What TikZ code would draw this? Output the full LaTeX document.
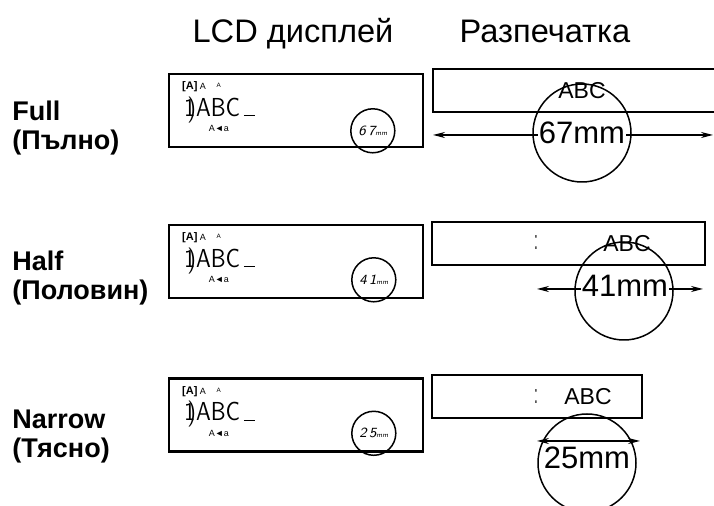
\documentclass[tikz,border=0pt]{standalone}
\usepackage{fontspec}
\setmainfont{Liberation Sans}
\usetikzlibrary{arrows.meta, positioning}

\begin{document}
\begin{tikzpicture}[
    x=0.5pt, y=-0.5pt,
    heading/.style={font=\fontsize{16.3}{19}\selectfont, anchor=base, inner sep=0pt},
    modelabel/.style={font=\fontsize{13.5}{14.5}\selectfont\bfseries, align=left, anchor=west, inner sep=0pt},
    lcdbox/.style={draw, line width=1.2pt, minimum width=127pt, minimum height=36.5pt, inner sep=0pt},
    lcdind/.style={font=\fontsize{5.5}{6}\selectfont\bfseries, anchor=west, inner sep=0pt},
    lcdsym/.style={font=\fontsize{4.5}{5}\selectfont, inner sep=0pt},
    lcdtext/.style={font=\fontsize{13}{14}\sffamily\selectfont, anchor=west, inner sep=0pt, xscale=0.88},
    lcdcirc/.style={draw, circle, line width=0.75pt, minimum size=22pt, inner sep=0pt},
    lcdnum/.style={font=\fontsize{7}{8}\sffamily\itshape\selectfont, inner sep=0pt},
    tapebox/.style={draw, line width=1pt, minimum height=21.5pt, inner sep=0pt},
    tapetext/.style={font=\fontsize{11.5}{13}\selectfont, inner sep=0pt},
    tapedots/.style={font=\fontsize{6}{7}\selectfont, inner sep=0pt, yscale=2.2},
    sizetext/.style={font=\fontsize{15.5}{17}\selectfont, fill=white, inner sep=0.5pt},
    bigcirc/.style={draw, circle, line width=0.75pt, minimum size=49pt, inner sep=0pt},
    dimarrow/.style={{Stealth[length=6pt, width=3pt]}-{Stealth[length=6pt, width=3pt]}, line width=0.75pt}
]
\useasboundingbox (0,0) rectangle (714,506);
\clip (0,0) rectangle (714,506);

% Column headings
\node[heading] (hlcd) at (293,43) {LCD дисплей};
\node[heading] (htape) at (545,43) {Разпечатка};

% 1. Full
\node[modelabel] (m1) at (12,128) {Full\\(Пълно)};
\node[lcdbox] (lcd1) at (296,110.5) {};
\node[lcdind] (ind1) at ([shift={(14,14)}]lcd1.north west) {[A]};
\node[lcdsym] (sa1) at ([shift={(35,14)}]lcd1.north west) {A};
\node[lcdsym, scale=0.7] (sb1) at ([shift={(51,13)}]lcd1.north west) {A};
\node[lcdtext] (txt1) at ([shift={(16,37)}]lcd1.north west) {1\kern-.35em)ABC\,\rule{0.5em}{0.4pt}};
\node[lcdsym] (ar1) at ([shift={(51,56)}]lcd1.north west) {A◄a};
\node[lcdcirc] (lc1) at ([shift={(205,58)}]lcd1.north west) {};
\node[lcdnum] (ln1) at (lc1) {6\,7{\fontsize{3.5}{4}\selectfont mm}};
\node[tapebox, minimum width=143.5pt] (tape1) at (576.5,90.5) {};
\node[tapetext] (abc1) at (582,91) {ABC};
\coordinate (l1) at (433,135);
\coordinate (r1) at (713,135);
\draw[dimarrow] (l1) -- (r1);
\node[sizetext] (w1) at (582,133) {67mm};
\node[bigcirc] (c1) at (582,133) {};

% 2. Half
\node[modelabel] (m2) at (12,278) {Half\\(Половин)};
\node[lcdbox] (lcd2) at (296,261.5) {};
\node[lcdind] (ind2) at ([shift={(14,14)}]lcd2.north west) {[A]};
\node[lcdsym] (sa2) at ([shift={(35,14)}]lcd2.north west) {A};
\node[lcdsym, scale=0.7] (sb2) at ([shift={(51,13)}]lcd2.north west) {A};
\node[lcdtext] (txt2) at ([shift={(16,37)}]lcd2.north west) {1\kern-.35em)ABC\,\rule{0.5em}{0.4pt}};
\node[lcdsym] (ar2) at ([shift={(51,56)}]lcd2.north west) {A◄a};
\node[lcdcirc] (lc2) at ([shift={(206,56)}]lcd2.north west) {};
\node[lcdnum] (ln2) at (lc2) {4\,1{\fontsize{3.5}{4}\selectfont mm}};
\node[tapebox, minimum width=136.5pt] (tape2) at (568.5,244) {};
\node[tapedots] (dot2) at (536,243) {:};
\node[tapetext] (abc2) at (627,244) {ABC};
\coordinate (l2) at (537,289);
\coordinate (r2) at (703,289);
\draw[dimarrow] (l2) -- (r2);
\node[sizetext] (w2) at (625,286) {41mm};
\node[bigcirc] (c2) at (624,291) {};

% 3. Narrow
\node[modelabel] (m3) at (12,437) {Narrow\\(Тясно)};
\node[lcdbox] (lcd3) at (296,415) {};
\node[lcdind] (ind3) at ([shift={(14,14)}]lcd3.north west) {[A]};
\node[lcdsym] (sa3) at ([shift={(35,14)}]lcd3.north west) {A};
\node[lcdsym, scale=0.7] (sb3) at ([shift={(51,13)}]lcd3.north west) {A};
\node[lcdtext] (txt3) at ([shift={(16,37)}]lcd3.north west) {1\kern-.35em)ABC\,\rule{0.5em}{0.4pt}};
\node[lcdsym] (ar3) at ([shift={(51,56)}]lcd3.north west) {A◄a};
\node[lcdcirc] (lc3) at ([shift={(206,56)}]lcd3.north west) {};
\node[lcdnum] (ln3) at (lc3) {2\,5{\fontsize{3.5}{4}\selectfont mm}};
\node[tapebox, minimum width=105pt] (tape3) at (537,396.5) {};
\node[tapedots] (dot3) at (536,397) {:};
\node[tapetext] (abc3) at (588,397) {ABC};
\coordinate (l3) at (537,441);
\coordinate (r3) at (640,441);
\draw[dimarrow] (l3) -- (r3);
\node[tapetext, font=\fontsize{15.5}{17}\selectfont] (w3) at (587,458) {25mm};
\node[bigcirc] (c3) at (587,463) {};

\end{tikzpicture}
\end{document}
